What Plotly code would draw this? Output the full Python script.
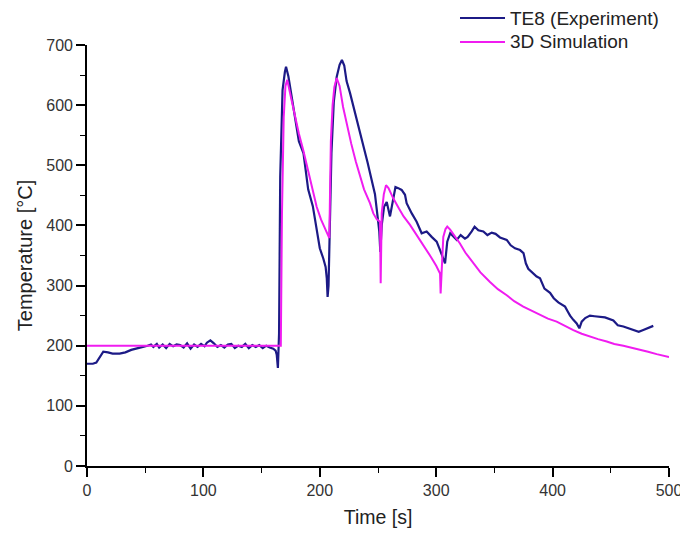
import plotly.graph_objects as go

# Experiment TE8 (time [s], temperature [°C])
exp_t = [0, 5, 8, 11, 14, 18, 22, 28, 33, 38, 43, 48, 52, 55, 57, 60, 62, 65, 68, 71, 74, 77, 80, 83,
         86, 89, 92, 95, 98, 101, 103, 106, 109, 112, 115, 118, 121, 124, 127, 130, 133, 136, 139, 142,
         145, 148, 151, 154, 157, 160, 162, 163, 164, 165, 166, 167, 168, 170, 171, 173, 176, 179, 182,
         186, 190, 194, 197, 200, 203, 205, 206, 206.7, 207.5, 208.5, 210, 212, 214.5, 217, 219,
         221, 223, 226, 229, 232, 235, 238, 241, 244, 247.4, 250.3, 251.1, 252, 253.2, 255.2, 257.5,
         260.3, 263.1, 265, 267.4, 270.3, 273.2, 274.6, 279, 283.2, 287.5, 291.8, 296.1, 300.4, 303.3,
         304.7, 307.6, 309.5, 312, 317.6, 321, 324.7, 327, 330.5, 333, 336.2, 340.5, 344, 347.7, 351,
         354.8, 360.6, 364, 367.7, 372, 375, 377, 379.1, 383, 386.3, 389.2, 393, 397.8, 401, 404.9,
         410.7, 413, 415, 417.8, 420.7, 423, 425, 428, 432.1, 436, 440.7, 445, 452.2, 456, 460.8,
         465, 470.8, 474, 477.9, 482, 486.5]
exp_T = [170, 170, 172, 182, 190, 189, 187, 187, 189, 193, 195, 198, 200, 202, 198, 203, 197, 202, 196,
         203, 199, 202, 201, 197, 204, 195, 202, 198, 203, 199, 205, 209, 204, 198, 201, 197, 202, 203,
         196, 200, 198, 203, 196, 201, 198, 201, 196, 200, 197, 195, 192, 185, 163, 220, 480, 580, 625,
         655, 664, 648, 610, 570, 540, 520, 460, 432, 400, 362, 345, 331, 312, 281, 300, 380, 520,
         605, 647, 667, 675, 666, 640, 620, 598, 575, 552, 528, 505, 480, 452, 404, 390, 356, 400, 431,
         439, 415, 448, 464, 462, 459, 451, 437, 420, 406, 387, 390, 381, 373, 359, 351, 337, 373, 387,
         376, 384, 378, 381, 390, 398, 392, 390, 384, 388, 386, 380, 376, 367, 362, 359, 354, 337, 328,
         320, 315, 312, 295, 288, 279, 272, 265, 257, 250, 243, 237, 229, 240, 246, 250, 249, 248, 247,
         242, 234, 232, 229, 226, 223, 226, 229, 233, 236]

# 3D Simulation (time [s], temperature [°C])
sim_t = [0, 166.5, 167.5, 169, 170.5, 172, 175, 178.7, 182, 185.8, 190, 194, 197.3, 201, 204.5,
         208.2, 208.6, 209.5, 211, 212.5, 214.5, 217, 220, 223.1, 227, 231, 234.5, 238, 243.1, 246,
         249, 251.7, 252.3, 253.2, 255, 256.9, 259, 263.1, 268, 272, 277.5, 282, 287, 291.8, 296,
         300, 303.3, 303.8, 306.1, 308, 309.5, 312, 316, 320.4, 325, 331.9, 338, 346.2, 353, 360.6,
         367, 374.8, 382, 389.2, 396, 403.5, 410, 417.8, 425, 432.1, 439, 446.5, 453, 460.8, 468,
         475, 482, 489.4, 495, 500]
sim_T = [200, 200, 420, 580, 632, 642, 615, 581, 553, 525, 490, 455, 431, 410, 394,
         379, 430, 540, 600, 630, 645, 632, 597, 568, 536, 506, 481, 460, 437, 420,
         410, 406, 304, 420, 452, 467, 462, 445, 428, 415, 401, 388, 374, 359, 346,
         333, 320, 287, 381, 394, 398, 393, 382, 370, 355, 337, 322, 306, 294, 284,
         274, 265, 258, 251, 245, 240, 233, 226, 220, 215, 211, 207, 203, 200, 197,
         193, 190, 186, 183, 181]

x_ticks = [0, 100, 200, 300, 400, 500]
y_ticks = [0, 100, 200, 300, 400, 500, 600, 700]
series_names = ["TE8 (Experiment)", "3D Simulation"]
series_colors = ["#1c1a86", "#f01cf0"]

FONT = "Liberation Sans, Arial, sans-serif"
W, H = 688, 538
# the page body adds an 8px offset, so margins are expressed in figure coordinates
ML, MR, MT, MB = 79, 27, 37, 80

fig = go.Figure()
fig.add_trace(go.Scatter(x=exp_t, y=exp_T, mode="lines", name=series_names[0],
                         line=dict(color=series_colors[0], width=2.2)))
fig.add_trace(go.Scatter(x=sim_t, y=sim_T, mode="lines", name=series_names[1],
                         line=dict(color=series_colors[1], width=2)))

axis_common = dict(showgrid=False, zeroline=False, showline=True, linecolor="black", linewidth=1.6,
                   ticks="outside", ticklen=9, tickwidth=1.6, tickcolor="black", automargin=False,
                   tickfont=dict(family=FONT, size=16, color="#333333"), mirror=False)

fig.update_xaxes(range=[0, 500], tickvals=x_ticks,
                 minor=dict(ticks="outside", dtick=50, tick0=0, ticklen=5, tickwidth=1.4, tickcolor="black"),
                 title=dict(text="Time [s]", standoff=12, font=dict(family=FONT, size=19.5, color="#222222")),
                 **axis_common)
fig.update_yaxes(range=[0, 700], tickvals=y_ticks,
                 minor=dict(ticks="outside", dtick=50, tick0=0, ticklen=5, tickwidth=1.4, tickcolor="black"),
                 title=dict(text="Temperature [°C]", standoff=8, font=dict(family=FONT, size=20, color="#222222")),
                 **axis_common)

# Manual legend (pixel positions converted to paper coordinates)
pw, ph = W - ML - MR, H - MT - MB
def px_x(p):
    return (p - ML) / pw
def px_y(p):
    return (H - MB - p) / ph

shapes, annotations = [], []
for i, (name, col) in enumerate(zip(series_names, series_colors)):
    yy = 10 + i * 24
    shapes.append(dict(type="line", xref="paper", yref="paper", x0=px_x(452), x1=px_x(497),
                       y0=px_y(yy), y1=px_y(yy), line=dict(color=col, width=2.2)))
    annotations.append(dict(xref="paper", yref="paper", x=px_x(501), y=px_y(yy), xanchor="left",
                            yanchor="middle", text=name, showarrow=False, borderpad=0,
                            font=dict(family=FONT, size=19, color="#222222")))

fig.update_layout(
    width=W, height=H,
    margin=dict(l=ML, r=MR, t=MT, b=MB, autoexpand=False),
    plot_bgcolor="white", paper_bgcolor="white",
    showlegend=False, shapes=shapes, annotations=annotations,
)

fig.write_html("out.html")
